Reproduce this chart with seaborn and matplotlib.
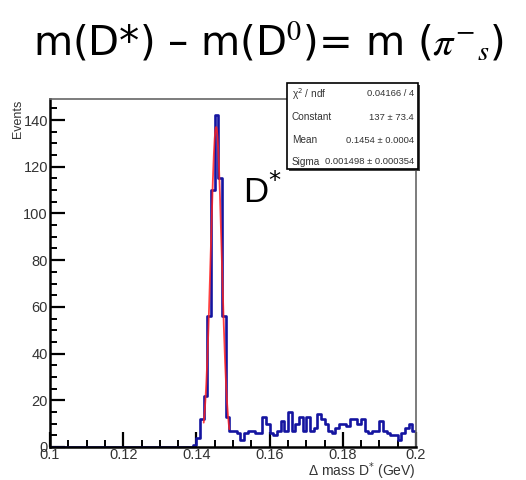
import numpy as np
import pandas as pd
import matplotlib
matplotlib.use("Agg")
import matplotlib.pyplot as plt
import matplotlib.patches as mpatches
from matplotlib.ticker import MultipleLocator, FixedLocator
import seaborn as sns

# Histogram of delta mass, 0.001 GeV bins from 0.100 to 0.200
bin_lo = 0.100
bin_width = 0.001
counts = [
    0, 0, 0, 0, 0, 0, 0, 0, 0, 0,          # 0.100 - 0.110
    0, 0, 0, 0, 0, 0, 0, 0, 0, 0,          # 0.110 - 0.120
    0, 0, 0, 0, 0, 0, 0, 0, 0, 0,          # 0.120 - 0.130
    0, 0, 0, 0, 0, 0, 0, 0, 0, 1,          # 0.130 - 0.140
    4, 12, 22, 56, 110, 142, 115, 56, 13, 7,   # 0.140 - 0.150
    7, 6, 3, 6, 7, 7, 6, 6, 13, 10,        # 0.150 - 0.160
    6, 5, 7, 11, 7, 15, 7, 10, 13, 7,      # 0.160 - 0.170
    13, 7, 8, 14, 12, 10, 7, 6, 8, 10,     # 0.170 - 0.180
    10, 9, 12, 12, 10, 12, 7, 6, 7, 7,     # 0.180 - 0.190
    11, 7, 6, 5, 5, 3, 6, 8, 10, 7,        # 0.190 - 0.200
]

# Gaussian fit results
fit_constant = 137.0
fit_mean = 0.1454
fit_sigma = 0.001498
fit_range = (0.142, 0.149)

stat_names = ["χ$^{2}$ / ndf", "Constant", "Mean", "Sigma"]
stat_values = ["0.04166 / 4", "137 ± 73.4", "0.1454 ± 0.0004", "0.001498 ± 0.000354"]

x_ticks = [0.1, 0.12, 0.14, 0.16, 0.18, 0.2]
x_tick_labels = ["0.1", "0.12", "0.14", "0.16", "0.18", "0.2"]
y_ticks = [0, 20, 40, 60, 80, 100, 120, 140]

title_text = "m(D*) – m(D$^0$)= m ($\\pi^{-}{}_{s}$)"
peak_label = "D$^{*}$"
x_label = "Δ mass D$^{*}$ (GeV)"
y_label = "Events"

W, H = 526, 480
fig = plt.figure(figsize=(W / 100, H / 100), dpi=100)
sns.set_style("white")
plt.rcParams["font.family"] = ["Liberation Sans", "DejaVu Sans"]

small = dict(color="#333333")


def fx(x):
    return x / W


def fy(y):
    return 1 - y / H


ax_l, ax_r, ax_t, ax_b = 50, 416, 99, 447
ax = fig.add_axes([fx(ax_l), fy(ax_b), fx(ax_r - ax_l), fy(ax_t) - fy(ax_b)])
ax.set_facecolor("white")

n_bins = len(counts)
centers = bin_lo + bin_width * (np.arange(n_bins) + 0.5)
df = pd.DataFrame({"dm": centers, "n": counts})

sns.histplot(data=df, x="dm", weights="n", binwidth=bin_width,
             binrange=(bin_lo, bin_lo + bin_width * n_bins), element="step",
             fill=False, color="#1414a0", linewidth=1.9, ax=ax, zorder=3)

xs = np.linspace(fit_range[0], fit_range[1], 200)
gauss = fit_constant * np.exp(-0.5 * ((xs - fit_mean) / fit_sigma) ** 2)
sns.lineplot(x=xs, y=gauss, color="#ff2020", linewidth=1.3, alpha=0.85, ax=ax, zorder=4)

ax.set_xlim(0.1, 0.2)
ax.set_ylim(0, 149)
ax.set_xlabel("")
ax.set_ylabel("")

ax.xaxis.set_major_locator(FixedLocator(x_ticks))
ax.set_xticklabels(x_tick_labels)
ax.xaxis.set_minor_locator(MultipleLocator(0.005))
ax.yaxis.set_major_locator(FixedLocator(y_ticks))
ax.yaxis.set_minor_locator(MultipleLocator(5))
ax.tick_params(which="both", direction="in", bottom=True, left=True, top=False, right=False,
               colors="black", labelcolor="#333333", labelsize=10.5, pad=1.5)
ax.tick_params(which="major", length=11, width=1.6)
ax.tick_params(which="minor", length=5, width=1.4)
ax.tick_params(axis="x", pad=1)

for side in ("left", "bottom"):
    ax.spines[side].set_color("black")
    ax.spines[side].set_linewidth(1.8)
for side in ("top", "right"):
    ax.spines[side].set_color("#666666")
    ax.spines[side].set_linewidth(1.2)
for sp in ax.spines.values():
    sp.set_zorder(6)

ax.text(0.1527, 104.5, peak_label, fontsize=25, color="black", zorder=5)

fig.text(fx(416), fy(475.5), x_label, ha="right", va="baseline", fontsize=10, **small)
fig.text(fx(18), fy(100), y_label, ha="center", va="top", rotation=90, fontsize=9, **small)

# Fit statistics box
bx0, by0, bx1, by1 = 287, 83, 418, 169
fig.patches.append(mpatches.Rectangle((fx(bx0) + fx(2), fy(by1) - 2 / H), fx(bx1 - bx0), fy(by0) - fy(by1),
                                      transform=fig.transFigure, facecolor="#444444",
                                      edgecolor="none", zorder=5))
fig.patches.append(mpatches.Rectangle((fx(bx0), fy(by1)), fx(bx1 - bx0), fy(by0) - fy(by1),
                                      transform=fig.transFigure, facecolor="white",
                                      edgecolor="black", linewidth=1.2, zorder=6))
row_y = [94, 117, 140, 162]
for name, val, yy in zip(stat_names, stat_values, row_y):
    fig.text(fx(bx0 + 5), fy(yy), name, ha="left", va="center", fontsize=7.2, zorder=7, **small)
    fig.text(fx(bx1 - 4), fy(yy), val, ha="right", va="center", fontsize=6.8, zorder=7, **small)

fig.text(fx(269), fy(55), title_text, ha="center", va="baseline", fontsize=29,
         color="black", family=["DejaVu Sans"], math_fontfamily="stix")

fig.savefig("out.png", dpi=100)
